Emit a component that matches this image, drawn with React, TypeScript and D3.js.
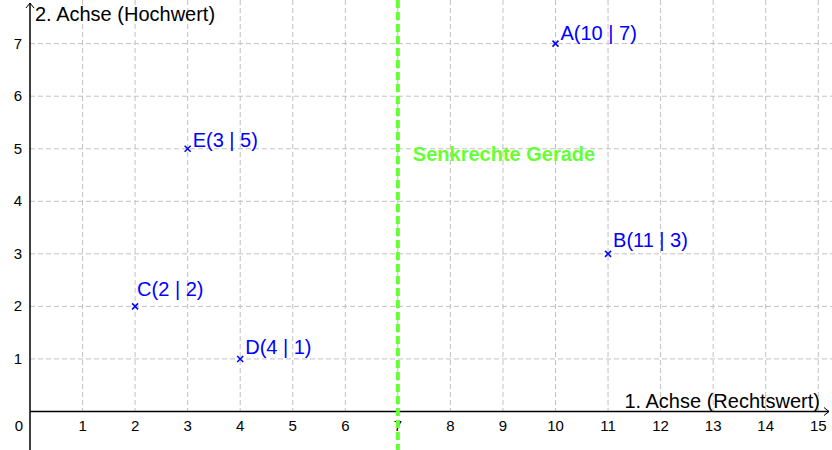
import React from "react";
import * as d3 from "d3";

const xTicks = [0, 1, 2, 3, 4, 5, 6, 7, 8, 9, 10, 11, 12, 13, 14, 15];
const yTicks = [1, 2, 3, 4, 5, 6, 7];
const pointNames = ["A", "B", "C", "D", "E"];
const pointX = [10, 11, 2, 4, 3];
const pointY = [7, 3, 2, 1, 5];
const verticalLineX = 7;
const verticalLineLabel = "Senkrechte Gerade";
const xAxisTitle = "1. Achse (Rechtswert)";
const yAxisTitle = "2. Achse (Hochwert)";

const W = 832;
const H = 450;
const UNIT = 52.55;
const OX = 30;
const OY = 411.5;

// label placement offsets (pixels) per point, as in the reference
const labelOffset: Record<string, [number, number]> = {
  A: [5, -4],
  B: [5, -6.5],
  C: [2, -10],
  D: [5, -5],
  E: [5, -2],
};

export default function App() {
  const x = d3.scaleLinear().domain([0, 15]).range([OX, OX + 15 * UNIT]);
  const y = d3.scaleLinear().domain([0, 7]).range([OY, OY - 7 * UNIT]);
  const font = "'Liberation Sans', Arial, sans-serif";
  const blue = "#0000ff";
  const green = "#66ff33";

  return (
    <svg
      width={W}
      height={H}
      style={{ position: "absolute", left: 0, top: 0, background: "#fff" }}
      fontFamily={font}
    >
      <rect x={0} y={0} width={W} height={H} fill="#fff" />
      {/* grid */}
      <g stroke="#c0c0c0" strokeWidth={1} strokeDasharray="5,3">
        {xTicks
          .filter((t) => t > 0)
          .map((t) => (
            <line key={"gx" + t} x1={x(t)} x2={x(t)} y1={0} y2={OY} />
          ))}
        {yTicks.map((t) => (
          <line key={"gy" + t} x1={OX} x2={W} y1={y(t)} y2={y(t)} />
        ))}
      </g>
      {/* axes */}
      <g stroke="#000" strokeWidth={1.5} fill="none">
        <line x1={OX} x2={W - 3} y1={OY} y2={OY} />
        <line x1={OX} x2={OX} y1={H} y2={3} />
        <polyline points={`${OX - 4},${8} ${OX},${3} ${OX + 4},${8}`} strokeWidth={1} />
        <polyline points={`${W - 8},${OY - 4} ${W - 3},${OY} ${W - 8},${OY + 4}`} strokeWidth={1} />
      </g>
      {/* tick labels */}
      <g fontSize={15} fill="#000">
        {xTicks.map((t) => (
          <text
            key={"tx" + t}
            x={t === 0 ? OX - 11 : x(t)}
            y={431}
            textAnchor="middle"
          >
            {t}
          </text>
        ))}
        {yTicks.map((t) => (
          <text key={"ty" + t} x={22} y={y(t) + 5} textAnchor="end">
            {t}
          </text>
        ))}
      </g>
      {/* axis titles */}
      <text x={35} y={21} fontSize={20} fill="#000">
        {yAxisTitle}
      </text>
      <text x={820} y={408} fontSize={20} fill="#000" textAnchor="end">
        {xAxisTitle}
      </text>
      {/* vertical line */}
      <line
        x1={x(verticalLineX)}
        x2={x(verticalLineX)}
        y1={0}
        y2={H}
        stroke={green}
        strokeWidth={4}
        strokeDasharray="8,4"
      />
      <text
        x={x(verticalLineX) + 15}
        y={161}
        fontSize={20}
        fontWeight="bold"
        fill={green}
      >
        {verticalLineLabel}
      </text>
      {/* points */}
      {pointNames.map((n, i) => {
        const px = x(pointX[i]);
        const py = y(pointY[i]);
        const s = 3;
        const [dx, dy] = labelOffset[n];
        return (
          <g key={n}>
            <path
              d={`M${px - s},${py - s}L${px + s},${py + s}M${px - s},${py + s}L${px + s},${py - s}`}
              stroke={blue}
              strokeWidth={1.5}
            />
            <text x={px + dx} y={py + dy} fontSize={20} fill={blue}>
              {`${n}(${pointX[i]} | ${pointY[i]})`}
            </text>
          </g>
        );
      })}
    </svg>
  );
}
